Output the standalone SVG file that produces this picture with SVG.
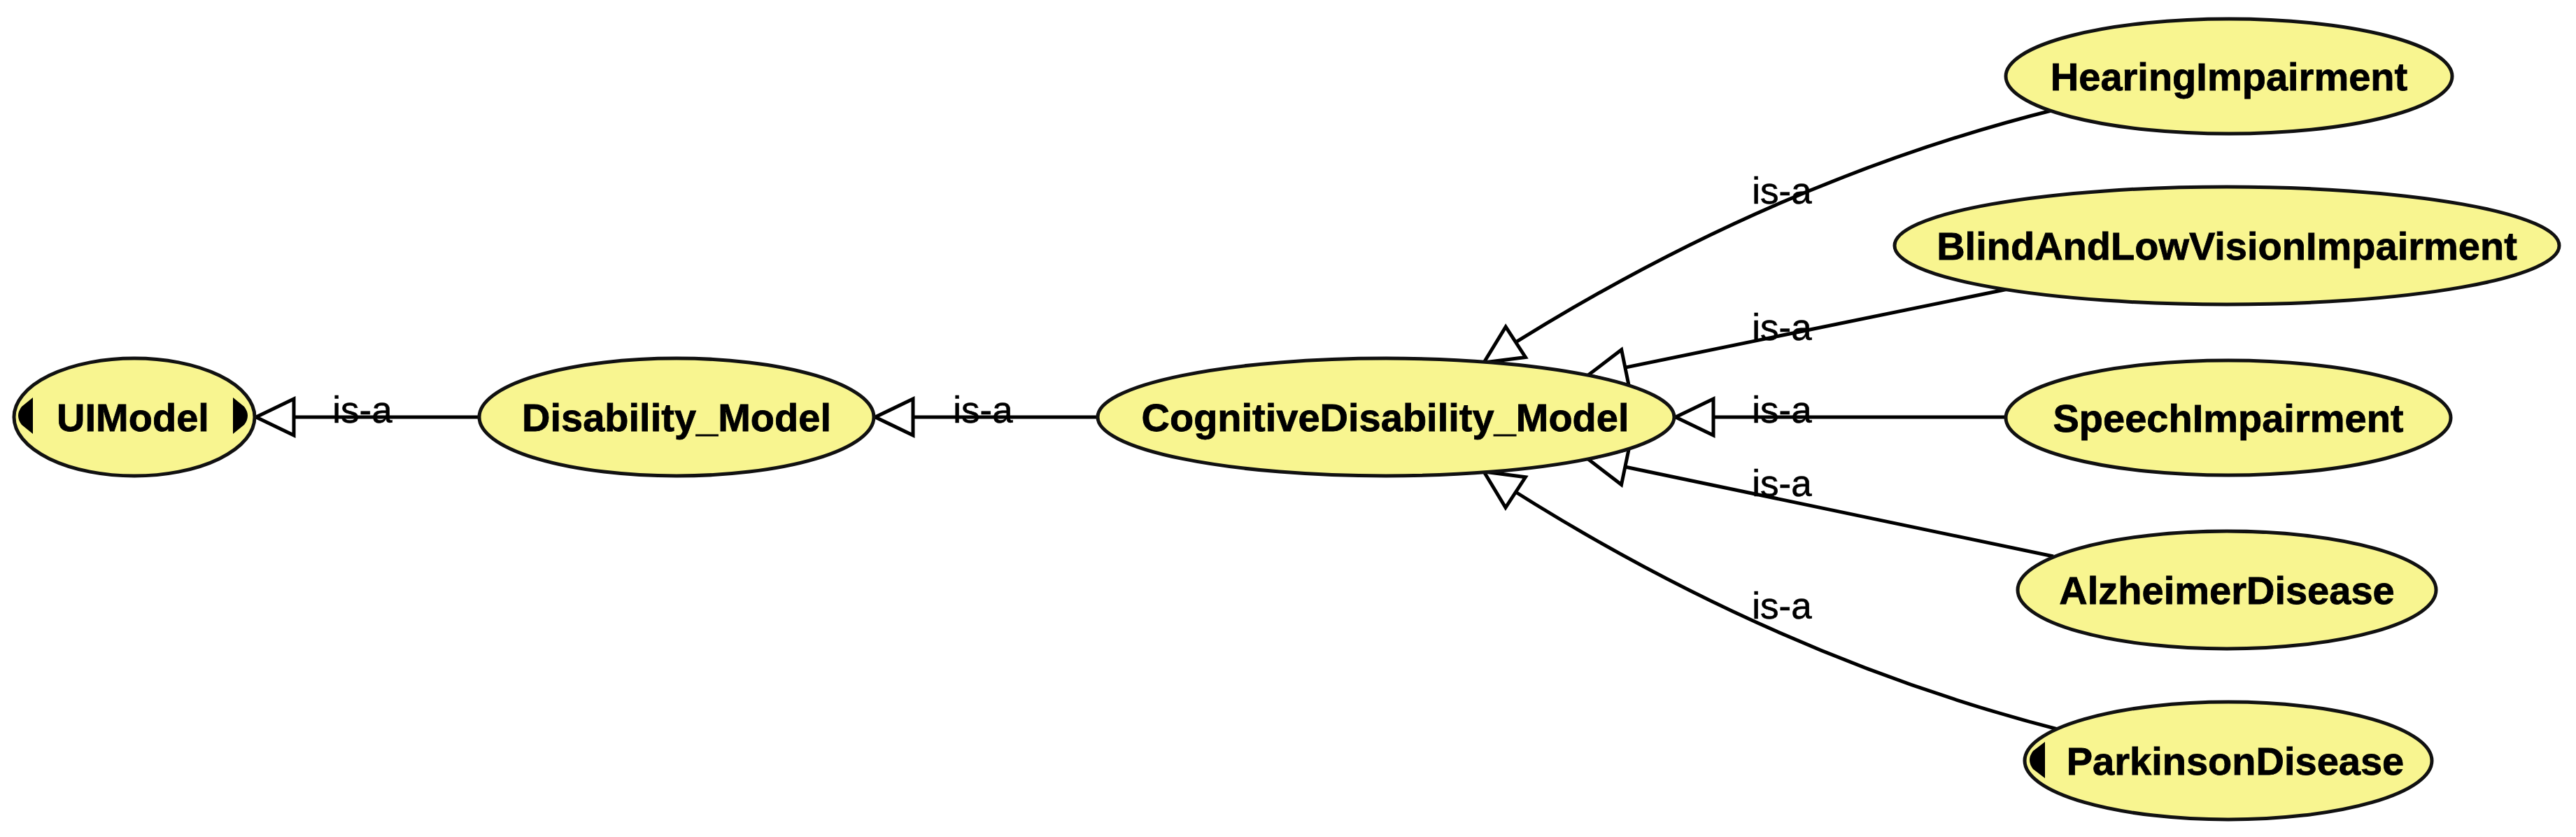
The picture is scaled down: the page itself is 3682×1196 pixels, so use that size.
<svg xmlns="http://www.w3.org/2000/svg" width="3682" height="1196" viewBox="0 0 3682 1196">
<style>
.node{fill:#f8f590;stroke:#111;stroke-width:5}
.lbl{font-family:"Liberation Sans",Arial,sans-serif;font-weight:bold;font-size:56px;fill:#000;stroke:#000;stroke-width:0.8;text-anchor:middle}
.isa{font-family:"Liberation Sans",Arial,sans-serif;font-size:53px;fill:#000;stroke:#000;stroke-width:0.6;text-anchor:middle}
.edge{fill:none;stroke:#000;stroke-width:5;marker-end:url(#tri)}
.knob{fill:#000}
</style>
<defs>
<marker id="tri" markerUnits="userSpaceOnUse" viewBox="-60 -32 64 64" markerWidth="64" markerHeight="64" refX="0" refY="0" orient="auto" overflow="visible">
<path d="M0,0 L-54,-26 L-54,26 Z" fill="#fff" stroke="#000" stroke-width="5" stroke-linejoin="miter"/>
</marker>
</defs>
<rect width="3682" height="1196" fill="#fff"/>
<g id="connectors">
<path class="edge" d="M686,596 L366,596"/>
<path class="edge" d="M1570,596 L1251,596"/>
<path class="edge" d="M2940,156 Q2518,261 2121,518"/>
<path class="edge" d="M2875,412 L2270,536"/>
<path class="edge" d="M2870,596 L2395,596"/>
<path class="edge" d="M2935,795 L2270,656"/>
<path class="edge" d="M2945,1043 Q2519,934 2121,674"/>
<text class="isa" x="518" y="604">is-a</text>
<text class="isa" x="1405" y="604">is-a</text>
<text class="isa" x="2547" y="291">is-a</text>
<text class="isa" x="2547" y="486">is-a</text>
<text class="isa" x="2547" y="604">is-a</text>
<text class="isa" x="2547" y="709">is-a</text>
<text class="isa" x="2547" y="884">is-a</text>
</g>
<g id="UIModel">
<ellipse class="node" cx="192" cy="596" rx="172" ry="84"/>
<path class="knob" d="M47,568 L47,620 L31,607 Q21,594 31,581 Z"/>
<path class="knob" d="M333,568 L333,620 L349,607 Q359,594 349,581 Z"/>
<text class="lbl" x="190" y="616">UIModel</text>
</g>
<g id="Disability_Model">
<ellipse class="node" cx="967" cy="596" rx="282" ry="84"/>
<text class="lbl" x="967" y="616">Disability_Model</text>
</g>
<g id="CognitiveDisability_Model">
<ellipse class="node" cx="1981" cy="596" rx="412" ry="84"/>
<text class="lbl" x="1980" y="616">CognitiveDisability_Model</text>
</g>
<g id="HearingImpairment">
<ellipse class="node" cx="3186" cy="109" rx="319" ry="82"/>
<text class="lbl" x="3186" y="129">HearingImpairment</text>
</g>
<g id="BlindAndLowVisionImpairment">
<ellipse class="node" cx="3183" cy="351" rx="475" ry="84"/>
<text class="lbl" x="3183" y="371">BlindAndLowVisionImpairment</text>
</g>
<g id="SpeechImpairment">
<ellipse class="node" cx="3185" cy="597" rx="318" ry="82"/>
<text class="lbl" x="3185" y="617">SpeechImpairment</text>
</g>
<g id="AlzheimerDisease">
<ellipse class="node" cx="3183" cy="843" rx="299" ry="84"/>
<text class="lbl" x="3183" y="863">AlzheimerDisease</text>
</g>
<g id="ParkinsonDisease">
<ellipse class="node" cx="3185" cy="1087" rx="291" ry="84"/>
<path class="knob" d="M2923,1060 L2923,1112 L2906,1099 Q2896,1086 2906,1073 Z"/>
<text class="lbl" x="3195" y="1107">ParkinsonDisease</text>
</g>
</svg>
